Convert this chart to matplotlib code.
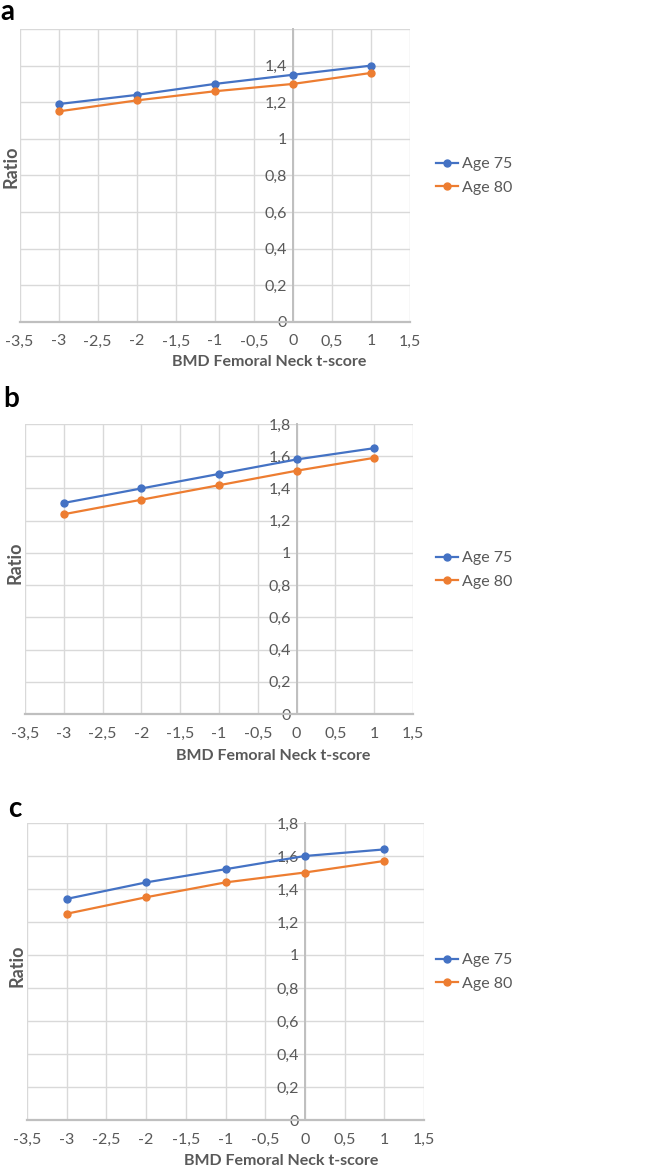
import numpy as np
import matplotlib
matplotlib.use("Agg")
import matplotlib.pyplot as plt
from matplotlib.ticker import FuncFormatter

plt.rcParams["font.family"] = ["Lato", "DejaVu Sans"]

# ── Data ──────────────────────────────────────────────────────────────────────
t_scores = [-3, -2, -1, 0, 1]

a_age75 = [1.19, 1.24, 1.30, 1.35, 1.40]
a_age80 = [1.15, 1.21, 1.26, 1.30, 1.36]

b_age75 = [1.31, 1.40, 1.49, 1.58, 1.65]
b_age80 = [1.24, 1.33, 1.42, 1.51, 1.59]

c_age75 = [1.34, 1.44, 1.52, 1.60, 1.64]
c_age80 = [1.25, 1.35, 1.44, 1.50, 1.57]

panel_letters = ["a", "b", "c"]
series_labels = ["Age 75", "Age 80"]

BLUE   = "#4472C4"
ORANGE = "#ED7D31"
GRID   = "#D9D9D9"
AXIS   = "#BFBFBF"
TEXT   = "#595959"

W, H = 650, 1169
fig = plt.figure(figsize=(W / 100, H / 100), dpi=100)


def comma(v, _pos=None):
    s = f"{v:.1f}".rstrip("0").rstrip(".")
    if s == "-0":
        s = "0"
    return s.replace(".", ",")


# pixel boxes: left, right, top, bottom; ymax; label fractions; legend y
panels = [
    dict(box=(19.5, 410, 29, 322), ymax=1.6, show_top=False,
         data=(a_age75, a_age80), ylab=(0.0, 0.53), xlab=(0.64, -0.112),
         leg_y=176, letter=(0, 12)),
    dict(box=(25, 413, 424, 714), ymax=1.8, show_top=True,
         data=(b_age75, b_age80), ylab=(-0.003, 0.52), xlab=(0.64, -0.120),
         leg_y=570, letter=(3, 399)),
    dict(box=(27, 424, 823, 1120), ymax=1.8, show_top=True,
         data=(c_age75, c_age80), ylab=(-0.003, 0.52), xlab=(0.64, -0.115),
         leg_y=972, letter=(8, 809)),
]

for letter, p in zip(panel_letters, panels):
    l, r, t, b = p["box"]
    ax = fig.add_axes([l / W, 1 - b / H, (r - l) / W, (b - t) / H])

    y75, y80 = p["data"]
    ax.plot(t_scores, y75, color=BLUE, lw=1.6, marker="o", ms=5,
            label=series_labels[0], zorder=4, clip_on=False)
    ax.plot(t_scores, y80, color=ORANGE, lw=1.6, marker="o", ms=5,
            label=series_labels[1], zorder=4, clip_on=False)

    ax.set_xlim(-3.5, 1.5)
    ax.set_ylim(0, p["ymax"])
    ax.set_xticks(np.arange(-3.5, 1.51, 0.5))
    yt = np.arange(0, p["ymax"] + 0.01, 0.2)
    ax.set_yticks(yt)
    top = p["ymax"]
    ax.yaxis.set_major_formatter(FuncFormatter(
        lambda v, pos, top=top, show=p["show_top"]:
        "" if (abs(v - top) < 1e-6 and not show) else comma(v)))
    ax.xaxis.set_major_formatter(FuncFormatter(comma))

    ax.grid(True, color=GRID, lw=1.0)
    ax.set_axisbelow(True)
    for s in ("top", "right"):
        ax.spines[s].set_visible(False)
    ax.spines["left"].set_position(("data", 0))
    ax.spines["left"].set_color(AXIS)
    ax.spines["left"].set_linewidth(1.4)
    ax.spines["bottom"].set_color(AXIS)
    ax.spines["bottom"].set_linewidth(1.6)
    ax.spines["left"].set_zorder(3)

    ax.tick_params(axis="both", length=0, labelsize=11.5, labelcolor=TEXT)
    ax.tick_params(axis="x", pad=9)
    ax.tick_params(axis="y", pad=4)

    ax.set_xlabel("BMD Femoral Neck t-score", fontsize=11.5,
                  fontweight="bold", color=TEXT)
    ax.set_ylabel("Ratio", fontsize=13, fontweight="bold", color=TEXT)
    ax.xaxis.set_label_coords(*p["xlab"])
    ax.yaxis.set_label_coords(*p["ylab"])

    ax.legend(loc="center left",
              bbox_to_anchor=(436 / W, 1 - p["leg_y"] / H),
              bbox_transform=fig.transFigure, frameon=False,
              fontsize=11.5, labelcolor=TEXT, handlelength=1.4,
              handletextpad=0.2, labelspacing=0.6, borderaxespad=0,
              borderpad=0)

    lx, ly = p["letter"]
    fig.text(lx / W, 1 - ly / H, letter, fontsize=20, fontweight="bold",
             color="black", ha="left", va="center")

fig.savefig("out.png", dpi=100)
